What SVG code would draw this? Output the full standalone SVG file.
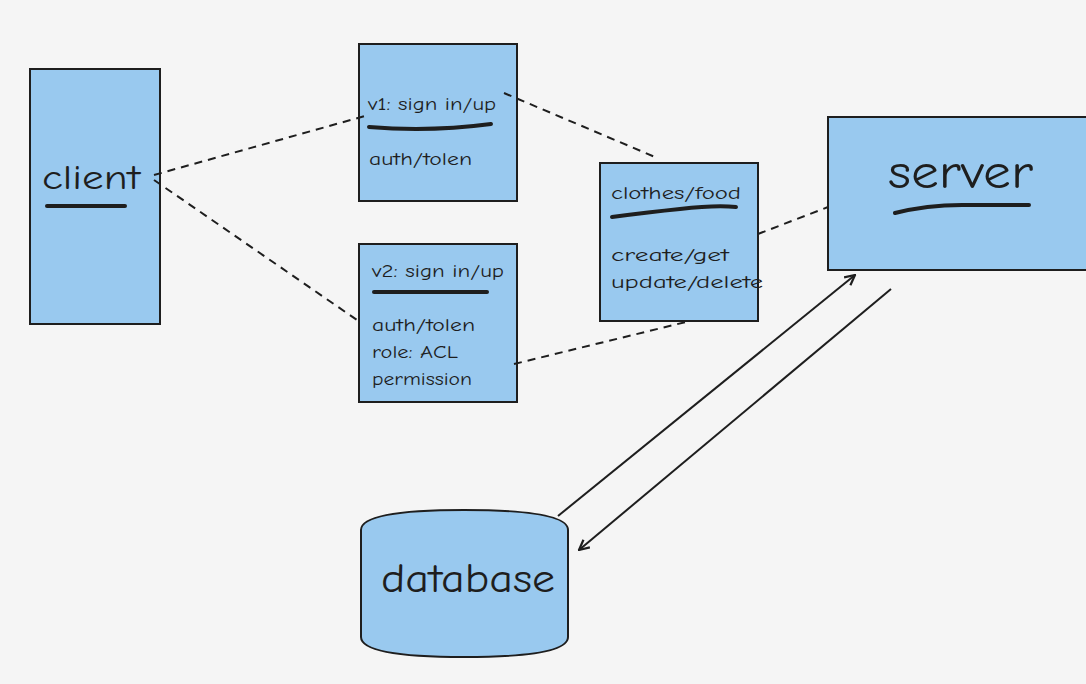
<svg xmlns="http://www.w3.org/2000/svg" width="1086" height="684" viewBox="0 0 1086 684">
<style>
.box{fill:#99c9ef;stroke:#1e1e1e;stroke-width:2}
.t{font-family:"Comic Neue","Liberation Sans",sans-serif;fill:#1e1e1e}
.s{font-size:19px}
.ul{fill:none;stroke:#1e1e1e;stroke-width:4;stroke-linecap:round}
.dash{fill:none;stroke:#1e1e1e;stroke-width:2;stroke-dasharray:8 6}
.arr{fill:none;stroke:#1e1e1e;stroke-width:2}
</style>
<defs>
<marker id="ah" viewBox="0 0 12 12" refX="11" refY="6" markerWidth="12" markerHeight="12" markerUnits="userSpaceOnUse" orient="auto">
<path d="M1,1 L11,6 L1,11" fill="none" stroke="#1e1e1e" stroke-width="2.2"/>
</marker>
</defs>
<rect width="1086" height="684" fill="#f5f5f5"/>
<g id="client">
<rect class="box" x="30" y="69" width="130" height="255"/>
<text class="t" x="42" y="189" font-size="35" textLength="98" lengthAdjust="spacingAndGlyphs">client</text>
<path class="ul" d="M47,206 L125,206"/>
</g>
<g id="v1">
<rect class="box" x="359" y="44" width="158" height="157"/>
<text class="t s" x="368" y="110" textLength="128" lengthAdjust="spacingAndGlyphs">v1: sign in/up</text>
<path class="ul" d="M369,127 Q430,132 491,124"/>
<text class="t s" x="369" y="165" textLength="103" lengthAdjust="spacingAndGlyphs">auth/tolen</text>
</g>
<g id="v2">
<rect class="box" x="359" y="244" width="158" height="158"/>
<text class="t s" x="372" y="277" textLength="132" lengthAdjust="spacingAndGlyphs">v2: sign in/up</text>
<path class="ul" d="M374,292 L487,292"/>
<text class="t s" x="372" y="331" textLength="103" lengthAdjust="spacingAndGlyphs">auth/tolen</text>
<text class="t s" x="372" y="358" textLength="86" lengthAdjust="spacingAndGlyphs">role: ACL</text>
<text class="t s" x="372" y="385" textLength="100" lengthAdjust="spacingAndGlyphs">permission</text>
</g>
<g id="clothes">
<rect class="box" x="600" y="163" width="158" height="158"/>
<text class="t s" x="611" y="199" textLength="130" lengthAdjust="spacingAndGlyphs">clothes/food</text>
<path class="ul" d="M612,217 Q650,212 680,209 Q715,205 736,207"/>
<text class="t s" x="611" y="261" textLength="118" lengthAdjust="spacingAndGlyphs">create/get</text>
<text class="t s" x="611" y="288" textLength="152" lengthAdjust="spacingAndGlyphs">update/delete</text>
</g>
<g id="server">
<rect class="box" x="828" y="117" width="262" height="153"/>
<text class="t" x="888" y="188" font-size="48" textLength="145" lengthAdjust="spacingAndGlyphs">server</text>
<path class="ul" d="M895,213 Q930,204 970,205 L1029,205"/>
</g>
<g id="database">
<path class="box" d="M361,530 Q361,510 464,510 Q568,510 568,530 L568,637 Q568,657 464,657 Q361,657 361,637 Z"/>
<text class="t" x="381" y="592" font-size="40" textLength="174" lengthAdjust="spacingAndGlyphs">database</text>
</g>
<g id="connectors">
<path class="dash" d="M154,175 L365,116"/>
<path class="dash" d="M154,180 L357,320"/>
<path class="dash" d="M504,93 L655,157"/>
<path class="dash" d="M514,364 L686,322"/>
<path class="dash" d="M758,234 L828,207"/>
<path class="arr" d="M558,516 L855,275" marker-end="url(#ah)"/>
<path class="arr" d="M891,289 L579,550" marker-end="url(#ah)"/>
</g>
</svg>
